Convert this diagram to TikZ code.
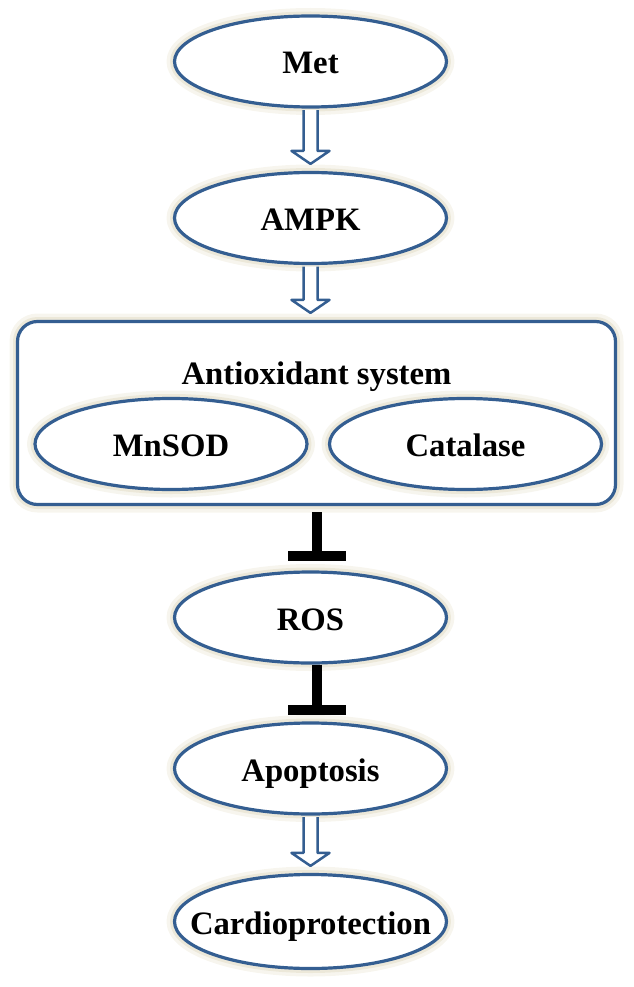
\documentclass[tikz,border=0pt]{standalone}
\usepackage{fontspec}
\setmainfont{Liberation Serif}
\usetikzlibrary{shapes.geometric,arrows.meta,calc}
\definecolor{ovalblue}{RGB}{52,94,145}
\definecolor{glowcol}{RGB}{228,222,200}
\begin{document}
\begin{tikzpicture}[x=1pt, y=-1pt, font=\fontsize{32.7}{38}\selectfont\bfseries, line join=round,
		glow/.style={preaction={draw=glowcol, line width=16pt, opacity=.3}, preaction={draw=glowcol, line width=9pt, opacity=.55}},
		oval/.style={ellipse, draw=ovalblue, line width=3.2pt, fill=white, glow, minimum width=272pt, minimum height=91pt, inner sep=0pt, text height=25pt, text depth=0pt},
		panel/.style={rectangle, rounded corners=20pt, draw=ovalblue, line width=3.2pt, fill=white, glow, minimum width=598pt, minimum height=183pt},
		titletext/.style={inner sep=0pt, text height=25pt, text depth=0pt},
		hollow/.style={draw=ovalblue, line width=2.5pt, fill=white},
		inhibit/.style={line width=10pt, -{Rectangle[length=10pt, width=58pt, line width=0pt]}}]
	\useasboundingbox (0,0) rectangle (633,987);
	% antioxidant box with its two enzymes
	\node[panel] (antiox) at (316.5,413) {};
	\node[titletext] (antitle) at (316.5,372) {Antioxidant system};
	\node[oval] (mnsod) at (171,444) {MnSOD};
	\node[oval] (catalase) at (465.5,444) {Catalase};
	% main chain
	\foreach \name/\txt/\y in {met/Met/61.5, ampk/AMPK/218, ros/ROS/617.5, apop/Apoptosis/768.5} {
		\node[oval] (\name) at (310.5,\y) {\txt};
	}
	\node[oval, inner xsep=-26pt, minimum height=94pt] (cardio) at (310.5,921.5) {Cardioprotection};
	% hollow arrows
	\foreach \a/\b in {met/ampk, ampk/antiox, apop/cardio} {
		\draw[hollow] let \p1=(\a.south), \p2=(\b.north) in
			(\x1-7pt,\y1-1.5pt) -- (\x1-7pt,\y2+20pt) -- (\x1-19pt,\y2+20pt) -- (\x1,\y2+7pt)
			-- (\x1+19pt,\y2+20pt) -- (\x1+7pt,\y2+20pt) -- (\x1+7pt,\y1-1.5pt);
	}
	% inhibition bars
	\draw[inhibit, shorten <=6pt, shorten >=9pt] (antiox.south) -- (antiox.south |- ros.north);
	\draw[inhibit, shorten >=6pt] (antiox.south |- ros.south) -- (antiox.south |- apop.north);
\end{tikzpicture}
\end{document}
